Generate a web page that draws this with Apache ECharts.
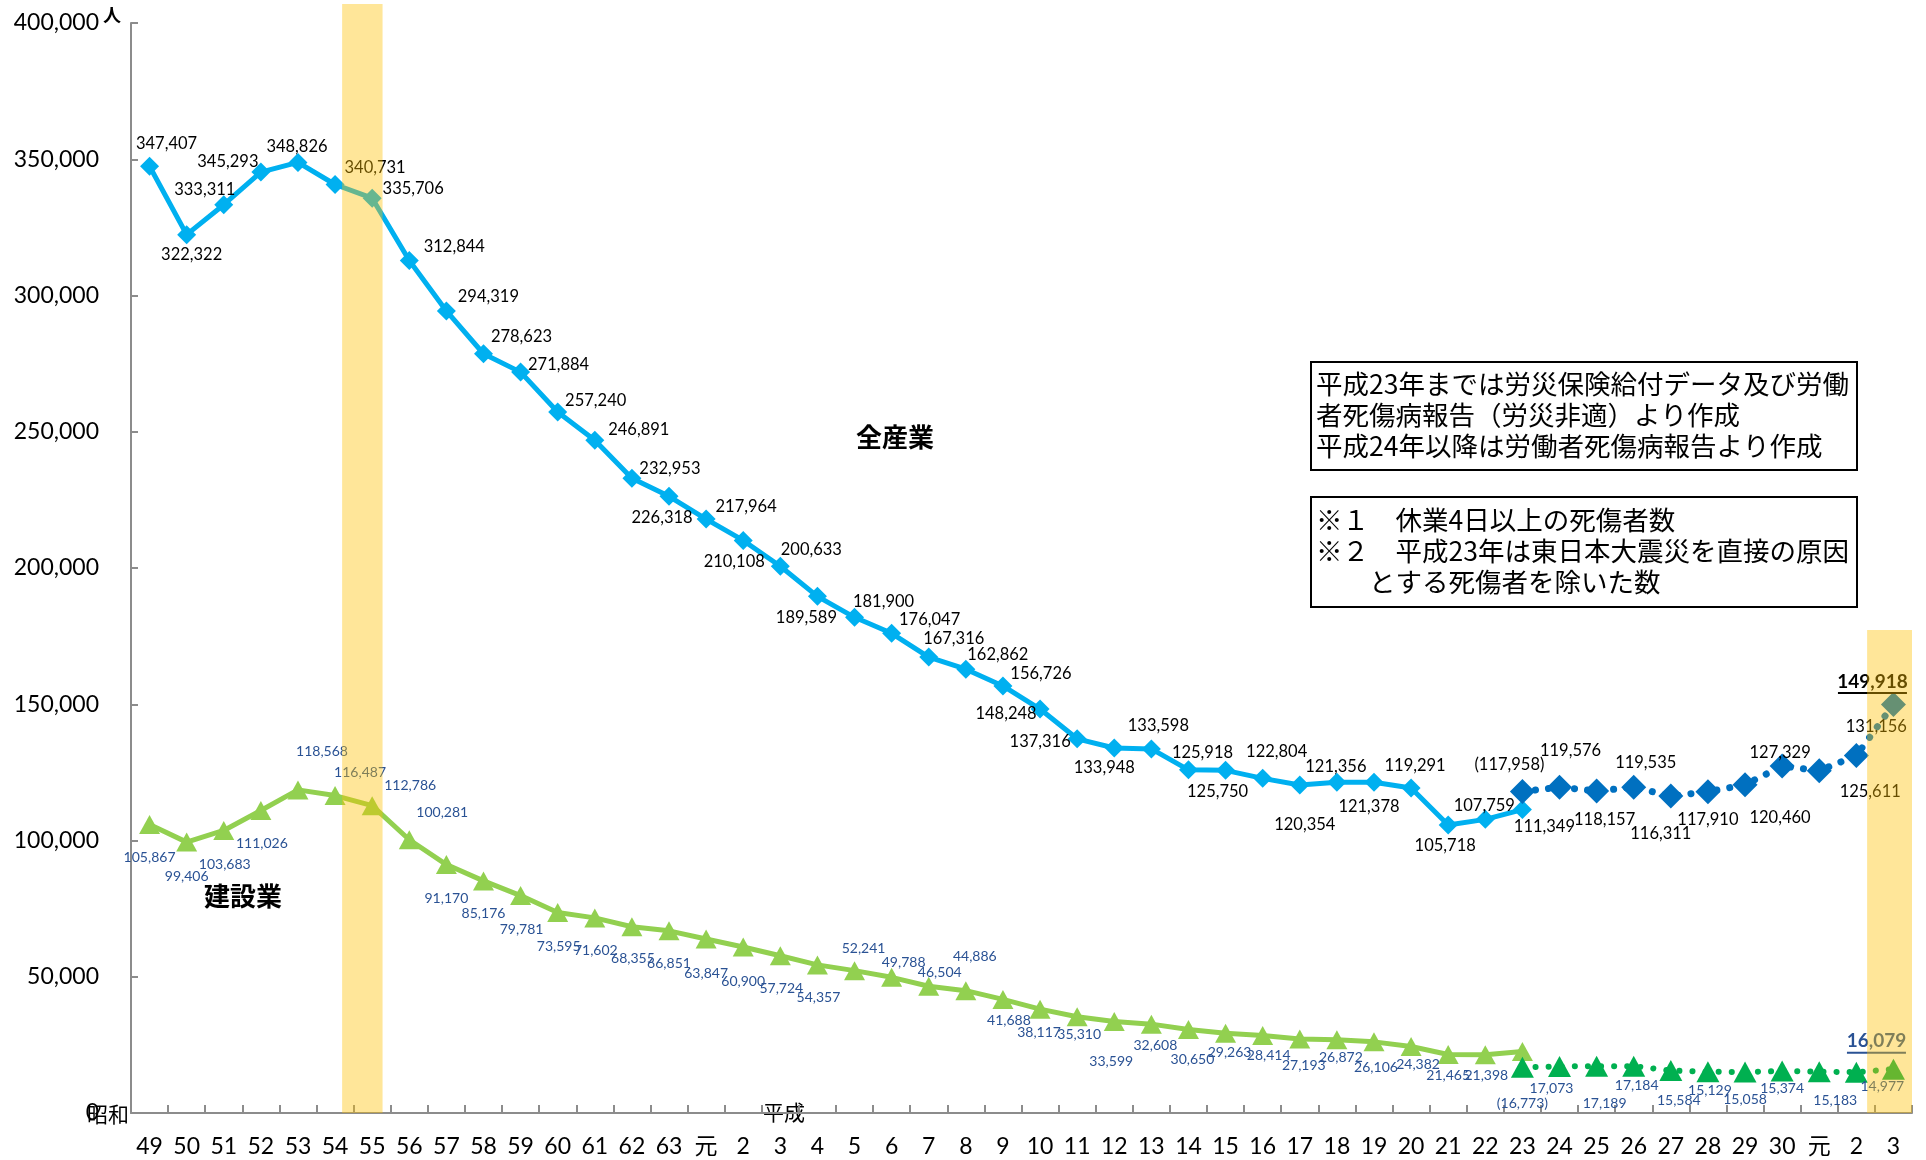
<!DOCTYPE html>
<html><head><meta charset="utf-8">
<script src="https://cdn.jsdelivr.net/npm/echarts@6/dist/echarts.min.js"></script>
<style>html,body{margin:0;padding:0;background:#fff}#c{width:1926px;height:1160px}</style>
</head><body><div id="c"></div>
<script>
// ---- data ----
const categories = ['49','50','51','52','53','54','55','56','57','58','59','60','61','62','63','元',
  '2','3','4','5','6','7','8','9','10','11','12','13','14','15','16','17','18','19','20','21','22','23',
  '24','25','26','27','28','29','30','元','2','3'];
// 全産業 (平成23年まで: 労災保険給付データ等)
const allOld = [347407,322322,333311,345293,348826,340731,335706,312844,294319,278623,271884,257240,
  246891,232953,226318,217964,210108,200633,189589,181900,176047,167316,162862,156726,148248,137316,
  133948,133598,125918,125750,122804,120354,121356,121378,119291,105718,107759,111349];
// 全産業 (平成23年以降: 労働者死傷病報告)
const allNew = [117958,119576,118157,119535,116311,117910,120460,127329,125611,131156,149918];
// 建設業
const conOld = [105867,99406,103683,111026,118568,116487,112786,100281,91170,85176,79781,73595,71602,
  68355,66851,63847,60900,57724,54357,52241,49788,46504,44886,41688,38117,35310,33599,32608,30650,
  29263,28414,27193,26872,26106,24382,21465,21398,22600];
const conNew = [16773,17073,17189,17184,15584,15129,15058,15374,15183,14977,16079];
const newStart = 37; // index of 平成23 where the new series begins

// ---- label layout (offsets of label centre from point, px) ----
const allOldOff = [[17,-23],[5,20],[-19,-15],[-33,-10],[-1,-16],[40,-17],[41,-10],[45,-14],[42,-14],
  [38,-17],[38,-7],[38,-11],[44,-11],[38,-10],[-7,21],[40,-12],[-9,21],[31,-17],[-11,21],[29,-16],
  [38,-14],[25,-18],[32,-15],[38,-12],[-34,5],[-37,3],[-10,20],[7,-23],[14,-17],[-8,21],[14,-27],
  [5,40],[-1,-16],[-5,24],[4,-22],[-3,21],[-1,-14],[22,17]];
const allNewOff = [[-13,-27],[11,-36],[8,29],[12,-25],[-10,38],[0,28],[35,33],[-2,-13],[51,21],[20,-29],[-21,-22]];
const conOldOff = [[0,33],[0,34],[1,34],[1,33],[24,-38],[25,-23],[38,-20],[33,-27],[0,34],[0,33],[1,34],
  [1,34],[1,33],[1,32],[0,33],[0,34],[0,34],[1,33],[1,33],[9,-22],[12,-15],[11,-14],[9,-34],[6,21],
  [-1,23],[2,18],[-3,40],[4,21],[4,30],[4,19],[6,20],[4,27],[4,18],[2,26],[7,18],[0,21],[1,21],null];
const conNewOff = [[0,36],[-8,22],[8,37],[3,19],[8,30],[2,19],[0,28],[0,17],[16,29],[26,14],[-17,-27]];

const N = categories.length;
const fmt = v => v.toLocaleString('en-US');
const FONT = 'Lato, "Noto Sans CJK JP", sans-serif';

function build(vals, offs, start, labelStyle, paren, special) {
  const out = new Array(N).fill(null);
  vals.forEach((v, i) => {
    const idx = start + i;
    const off = offs[i];
    const item = { value: v };
    if (!off) {
      item.label = { show: false };
    } else {
      const lab = Object.assign({ show: true, position: 'inside', offset: off }, labelStyle);
      if (paren && i === 0) lab.formatter = '(' + fmt(v) + ')';
      else lab.formatter = fmt(v);
      if (special && i === vals.length - 1) {
        lab.formatter = '{b|' + fmt(v) + '}\n{u|}';
        lab.rich = {
          b: { fontSize: 19, fontWeight: 'bold', color: special.color, fontFamily: FONT, lineHeight: 21 },
          u: { width: special.w, height: 2, backgroundColor: special.color }
        };
      }
      item.label = lab;
    }
    out[idx] = item;
  });
  return out;
}

const blackLab = { color: '#000', fontSize: 16.5, fontFamily: FONT };
const blueLab = { color: '#2A5294', fontSize: 14, fontFamily: FONT };

const option = {
  animation: false,
  backgroundColor: '#fff',
  grid: [
    { left: 131, right: 14, top: 23, bottom: 47 },
    { left: 131, right: 14, top: 4, bottom: 47 }
  ],
  xAxis: [
    {
      type: 'category', data: categories, gridIndex: 0, boundaryGap: true,
      axisLine: { lineStyle: { color: '#8C8C8C', width: 2 } },
      axisTick: { show: true, inside: true, length: 8, interval: 0, lineStyle: { color: '#8C8C8C', width: 2 } },
      axisLabel: { interval: 0, fontSize: 23, color: '#000', margin: 22, fontFamily: FONT },
      splitLine: { show: false }
    },
    { type: 'value', gridIndex: 1, min: -0.5, max: 47.5, show: false }
  ],
  yAxis: [
    {
      type: 'value', gridIndex: 0, min: 0, max: 400000, interval: 50000,
      axisLine: { show: true, lineStyle: { color: '#8C8C8C', width: 2 } },
      axisTick: { show: true, inside: true, length: 7, lineStyle: { color: '#8C8C8C', width: 2 } },
      axisLabel: { fontSize: 23, color: '#000', margin: 32, fontFamily: FONT, formatter: v => fmt(v) },
      splitLine: { show: false }
    },
    { type: 'value', gridIndex: 1, min: 0, max: 1, show: false }
  ],
  series: [
    {
      name: '建設業', type: 'line', z: 2,
      data: build(conOld, conOldOff, 0, blueLab),
      symbol: 'triangle', symbolSize: [21, 19],
      itemStyle: { color: '#92D050' },
      lineStyle: { color: '#92D050', width: 5 }
    },
    {
      name: '建設業2', type: 'line', z: 2,
      data: build(conNew, conNewOff, newStart, blueLab, true, { color: '#2A5294', w: 59 }),
      symbol: 'triangle', symbolSize: [23, 21],
      itemStyle: { color: '#00B050' },
      lineStyle: { color: '#00B050', width: 6, type: [0.1, 13], cap: 'round' }
    },
    {
      name: '全産業', type: 'line', z: 3,
      data: build(allOld, allOldOff, 0, blackLab),
      symbol: 'diamond', symbolSize: 19,
      itemStyle: { color: '#00B0F0' },
      lineStyle: { color: '#00B0F0', width: 5 }
    },
    {
      name: '全産業2', type: 'line', z: 3,
      data: build(allNew, allNewOff, newStart, blackLab, true, { color: '#000', w: 69 }),
      symbol: 'diamond', symbolSize: 25,
      itemStyle: { color: '#0070C0' },
      lineStyle: { color: '#0070C0', width: 7, type: [0.1, 13], cap: 'round' }
    },
    {
      name: 'band', type: 'line', xAxisIndex: 1, yAxisIndex: 1, z: 20, silent: true,
      data: [],
      markArea: {
        silent: true, z: 20,
        itemStyle: { color: 'rgba(255,192,0,0.4)' },
        data: [
          [{ coord: [5.19, 0] }, { coord: [6.28, 1] }],
          [{ coord: [46.29, 0] }, { coord: [47.5, 0.4355] }]
        ]
      }
    }
  ],
  graphic: [
    { type: 'text', left: 103, top: 6, style: { text: '人', fontSize: 18, fontWeight: 'bold', fill: '#000', fontFamily: '"Noto Sans CJK JP"' } },
    { type: 'text', left: 87, top: 1104, style: { text: '昭和', fontSize: 21, fill: '#000', fontFamily: '"Noto Sans CJK JP"' } },
    { type: 'text', left: 763, top: 1102, style: { text: '平成', fontSize: 21, fill: '#000', fontFamily: '"Noto Sans CJK JP"' } },
    { type: 'text', left: 856, top: 424, style: { text: '全産業', fontSize: 26, fontWeight: 'bold', fill: '#000', fontFamily: '"Noto Sans CJK JP"' } },
    { type: 'text', left: 204, top: 883, style: { text: '建設業', fontSize: 26, fontWeight: 'bold', fill: '#000', fontFamily: '"Noto Sans CJK JP"' } },
    { type: 'rect', shape: { x: 1311, y: 362, width: 546, height: 108 }, style: { fill: '#fff', stroke: '#000', lineWidth: 2 }, z: 30 },
    { type: 'text', left: 1316, top: 368, z: 31, style: { text: '平成23年までは労災保険給付データ及び労働\n者死傷病報告（労災非適）より作成\n平成24年以降は労働者死傷病報告より作成', fontSize: 26.5, lineHeight: 31, fill: '#000', fontFamily: '"Noto Sans CJK JP"' } },
    { type: 'rect', shape: { x: 1311, y: 497, width: 546, height: 110 }, style: { fill: '#fff', stroke: '#000', lineWidth: 2 }, z: 30 },
    { type: 'text', left: 1316, top: 504, z: 31, style: { text: '※１　休業4日以上の死傷者数\n※２　平成23年は東日本大震災を直接の原因\n　　とする死傷者を除いた数', fontSize: 26.5, lineHeight: 31, fill: '#000', fontFamily: '"Noto Sans CJK JP"' } }
  ]
};
const chart = echarts.init(document.getElementById('c'), null, { renderer: 'canvas' });
chart.setOption(option);
</script></body></html>
